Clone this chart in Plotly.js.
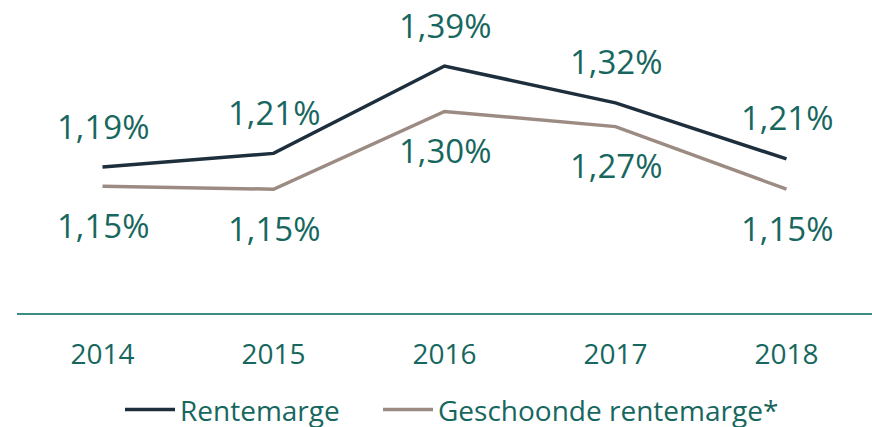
<!DOCTYPE html>
<html><head><meta charset="utf-8">
<script src="https://cdn.plot.ly/plotly-3.0.1.min.js"></script>
<style>html,body{margin:0;padding:0;background:#fff}#chart{width:872px;height:427px}</style>
</head><body><div id="chart"></div>
<script>
const years = ['2014','2015','2016','2017','2018'];
const rentemarge = [1.19, 1.217, 1.39, 1.317, 1.206];
const geschoond = [1.152, 1.146, 1.30, 1.27, 1.146];
const rentemargeLabels = ['1,19%','1,21%','1,39%','1,32%','1,21%'];
const geschoondLabels = ['1,15%','1,15%','1,30%','1,27%','1,15%'];
const seriesNames = ['Rentemarge','Geschoonde rentemarge*'];

const teal = '#17675f';
const font = 'Open Sans, sans-serif';

const traces = [
  {x: years, y: rentemarge, name: seriesNames[0], type: 'scatter', mode: 'lines',
   line: {color: '#1d2e3d', width: 3.5}, legend: 'legend'},
  {x: years, y: geschoond, name: seriesNames[1], type: 'scatter', mode: 'lines',
   line: {color: '#9c8b83', width: 3.5}, legend: 'legend2'}
];

const annotations = [];
years.forEach((yr, i) => {
  annotations.push({xref: 'x', yref: 'y', x: i, y: rentemarge[i], text: rentemargeLabels[i], showarrow: false,
    yshift: 41, xanchor: 'center', yanchor: 'middle', font: {family: font, size: 33, color: teal}});
  annotations.push({xref: 'x', yref: 'y', x: i, y: geschoond[i], text: geschoondLabels[i], showarrow: false,
    yshift: -39, xanchor: 'center', yanchor: 'middle', font: {family: font, size: 33, color: teal}});
});

const legendBase = {orientation: 'h', xref: 'container', xanchor: 'left', yref: 'container', y: 0.04, yanchor: 'middle',
  font: {family: font, size: 28, color: teal}, itemwidth: 50, bgcolor: 'rgba(0,0,0,0)'};

const layout = {
  width: 872, height: 427,
  margin: {l: 17, r: 0, t: 0, b: 114},
  paper_bgcolor: '#fff', plot_bgcolor: '#fff',
  showlegend: true,
  legend: Object.assign({}, legendBase, {x: 120 / 872}),
  legend2: Object.assign({}, legendBase, {x: 378 / 872}),
  xaxis: {type: 'category', range: [-0.5, 4.5], showgrid: false, zeroline: false,
    showline: true, linecolor: '#3f8c87', linewidth: 1.5, ticks: '', ticklabelstandoff: 16,
    tickfont: {family: font, size: 28, color: teal}, fixedrange: true},
  yaxis: {range: [0.9009, 1.5207], showticklabels: false, showline: false, showgrid: false, zeroline: false, ticks: '', fixedrange: true},
  annotations: annotations
};

Plotly.newPlot('chart', traces, layout, {displayModeBar: false, staticPlot: true});
</script></body></html>
